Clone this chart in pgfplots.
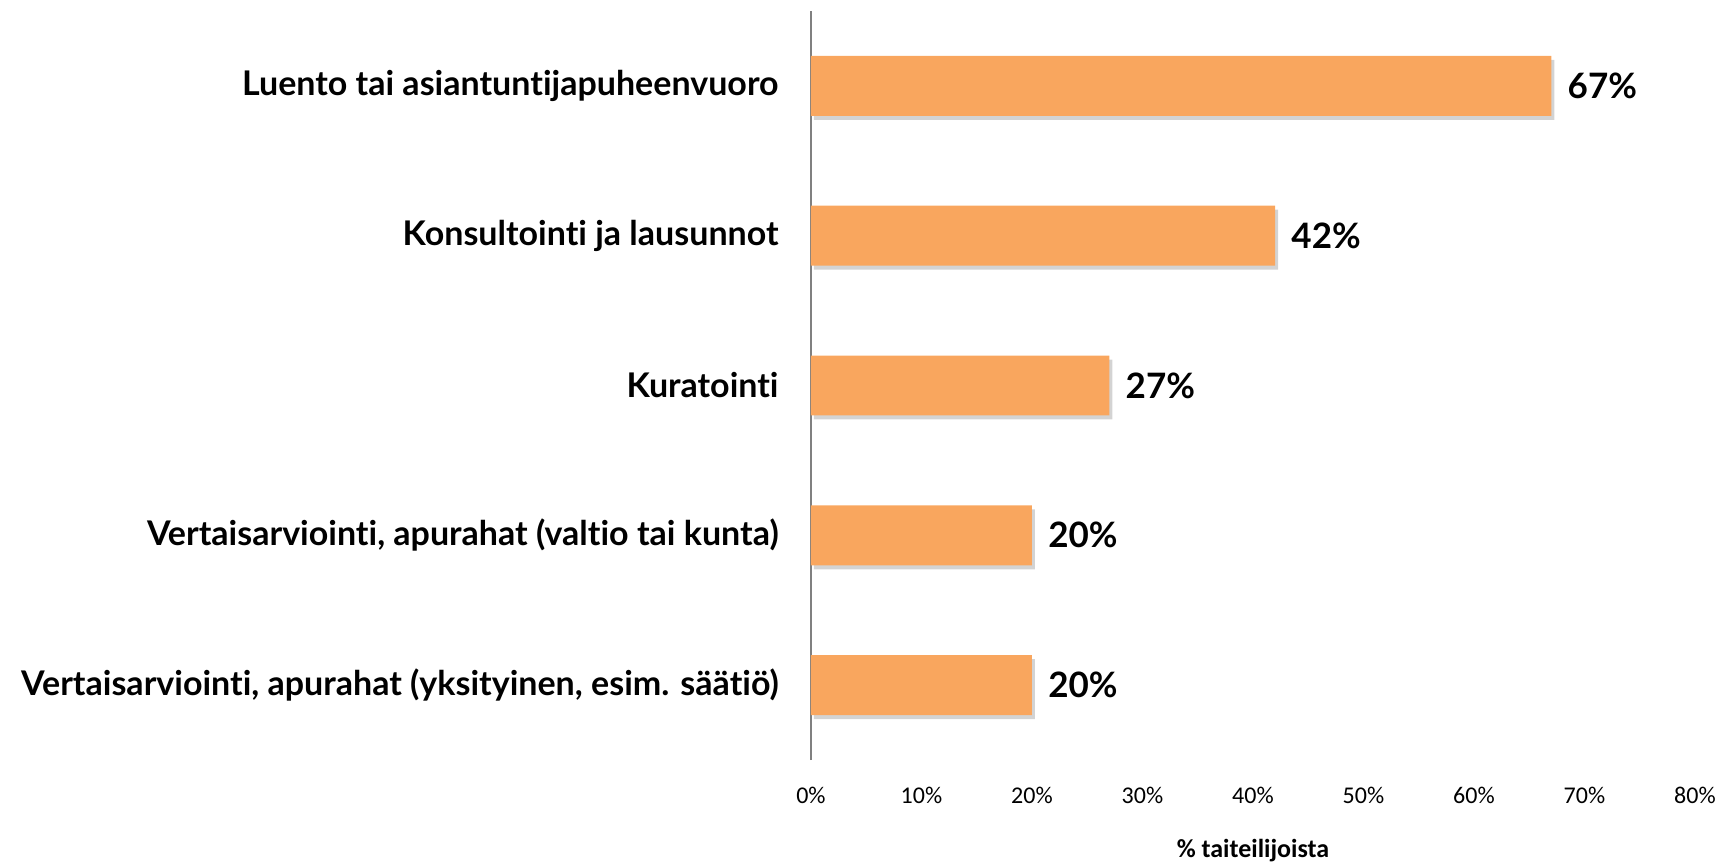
\documentclass[border=0pt]{standalone}
\usepackage{pgfplots}
\pgfplotsset{compat=1.18}
\usepackage{fontspec}
\setmainfont{Carlito}
\newfontfamily\labfont[Ligatures=NoCommon]{Lato}
\usetikzlibrary{shadows}
\definecolor{barorange}{HTML}{F9A65E}
\begin{document}
\begin{tikzpicture}
\useasboundingbox (-405.5pt,-52pt) rectangle (457.5pt,380pt);
\begin{axis}[
  at={(0,0)}, anchor=south west,
  scale only axis,
  width=442pt, height=374.5pt,
  xmin=0, xmax=80,
  ymin=-0.5, ymax=4.5,
  xbar, bar width=0.4,
  axis lines*=left,
  x axis line style={draw=none},
  y axis line style={draw=black!50, line width=1pt},
  major tick length=0pt,
  xtick={0,10,...,80},
  xticklabel={\pgfmathprintnumber[assume math mode=true]{\tick}\%},
  xticklabel style={anchor=center, yshift=-17.5pt, font=\fontsize{12pt}{14pt}\selectfont},
  ytick={0,1,2,3,4},
  yticklabels={{Vertaisarviointi, apurahat (yksityinen, esim. säätiö)},
    {Vertaisarviointi, apurahat (valtio tai kunta)},
    {Kuratointi}, {Konsultointi ja lausunnot}, {Luento tai asiantuntijapuheenvuoro}},
  yticklabel style={anchor=east, inner sep=0pt, xshift=-16pt, font=\labfont\bfseries\fontsize{17pt}{20pt}\selectfont},
  xlabel={\textbf{\% taiteilijoista}},
  xlabel style={at={(axis description cs:0.5,0)}, anchor=center, yshift=-45.5pt, font=\fontsize{13pt}{15pt}\selectfont},
  nodes near coords={\pgfmathprintnumber[assume math mode=true]{\pgfplotspointmeta}\%},
  nodes near coords style={anchor=west, xshift=8pt, inner sep=0pt, font=\labfont\bfseries\fontsize{17.5pt}{20pt}\selectfont, text=black},
  clip=false,
]
\addplot[fill=barorange, draw=none, drop shadow={opacity=0.35, shadow xshift=1.5pt, shadow yshift=-2pt}] coordinates {
  (20,0) (20,1) (27,2) (42,3) (67,4)
};
\end{axis}
\end{tikzpicture}
\end{document}
